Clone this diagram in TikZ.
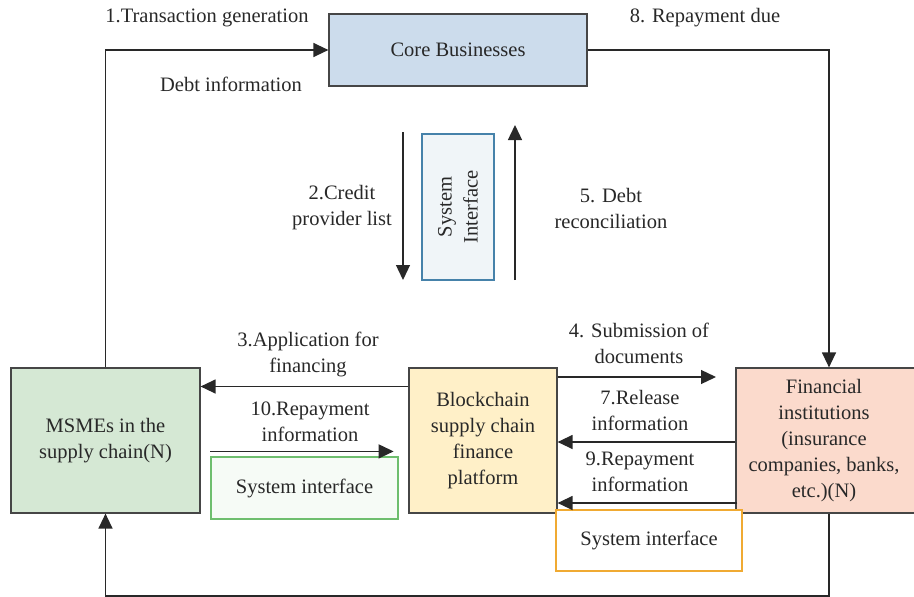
\documentclass[tikz,border=0pt]{standalone}
\usepackage{fontspec}
\setmainfont{Liberation Serif}
\usetikzlibrary{arrows.meta}

\definecolor{coreblue}{RGB}{204,220,236}
\definecolor{msmegreen}{RGB}{213,232,212}
\definecolor{bcyellow}{RGB}{255,240,200}
\definecolor{finpink}{RGB}{251,218,204}
\definecolor{ifblue}{RGB}{70,130,170}
\definecolor{ifgreen}{RGB}{110,190,110}
\definecolor{iforange}{RGB}{240,170,50}
\definecolor{edge}{RGB}{70,70,70}
\definecolor{ink}{RGB}{40,40,40}

\begin{document}
\begin{tikzpicture}[
	  x=1pt, y=-1pt,
	  every node/.style={font=\fontsize{20.5}{26}\selectfont, text=ink, align=center},
	  box/.style={draw=edge, line width=1.2pt, inner sep=2pt},
	  ifbox/.style={line width=1.2pt, inner sep=2pt},
	  arr/.style={draw=ink, line width=1.3pt, -{Triangle[length=15pt,width=14pt]}},
	]

	\useasboundingbox (0,0) rectangle (914,597);

	\node [box, fill=coreblue, minimum width=258pt, minimum height=72pt] (core) at (458,50) {Core Businesses};
	\node [ifbox, draw=ifblue, fill=ifblue!8, minimum width=146pt, minimum height=72pt, rotate=90] (siv) at (458,207) {System\\Interface};
	\node [box, fill=msmegreen, minimum width=189pt, minimum height=145pt] (msme) at (105.5,440.5) {MSMEs in the\\supply chain(N)};
	\node [box, fill=bcyellow, minimum width=148pt, minimum height=145pt] (bc) at (483,440.5) {Blockchain\\supply chain\\finance\\platform};
	\node [box, fill=finpink, minimum width=186pt, minimum height=145pt] (fin) at (829,440.5) {};
	\node (fintext) at (824,440.5) {Financial\\institutions\\(insurance\\companies, banks,\\etc.)(N)};
	\node [ifbox, draw=ifgreen, fill=ifgreen!6, minimum width=187pt, minimum height=62pt] (sia) at (304.5,488) {System interface};
	\node [ifbox, draw=iforange, fill=white, minimum width=186pt, minimum height=61pt] (sib) at (649,540.5) {System interface};

	\draw [arr] (msme.north) |- (core.west);
	\draw [arr] (core.east) -| (fin.north);

	\coordinate (dn1) at (403,132);
	\coordinate (dn2) at (403,280);
	\coordinate (up1) at (515,280);
	\coordinate (up2) at (515,125);
	\draw [arr] (dn1) -- (dn2);
	\draw [arr] (up1) -- (up2);

	\draw [arr] ([yshift=54pt]bc.west) -- ([yshift=54pt]msme.east);
	\coordinate (subend) at (716,377);
	\draw [arr] (bc.east |- subend) -- (subend);
	\draw [arr] ([yshift=-1.5pt]fin.west) -- ([yshift=-1.5pt]bc.east);
	\draw [arr] ([xshift=2pt,yshift=-62.5pt]fin.west) -- ([yshift=-62.5pt]bc.east);
	\draw [arr] ([yshift=5pt]sia.north west) -- ([xshift=-5pt,yshift=5pt]sia.north east);

	\coordinate (low) at (0,596);
	\draw [arr] (fin.south) -- (fin.south |- low) -- (msme.south |- low) -- (msme.south);

	\node (l1) at (207,18) {1.Transaction generation};
	\node (ldebt) at (231,84) {Debt information};
	\node (l8) at (705,18) {8. Repayment due};
	\node (l2) at (342,208) {2.Credit\\provider list};
	\node (l5) at (611,208) {5. Debt\\reconciliation};
	\node (l3) at (308,354) {3.Application for\\financing};
	\node (l10) at (310,422) {10.Repayment\\information};
	\node (l4) at (639,343) {4. Submission of\\documents};
	\node (l7) at (640,410) {7.Release\\information};
	\node (l9) at (640,472) {9.Repayment\\information};
	\end{tikzpicture}
\end{document}
